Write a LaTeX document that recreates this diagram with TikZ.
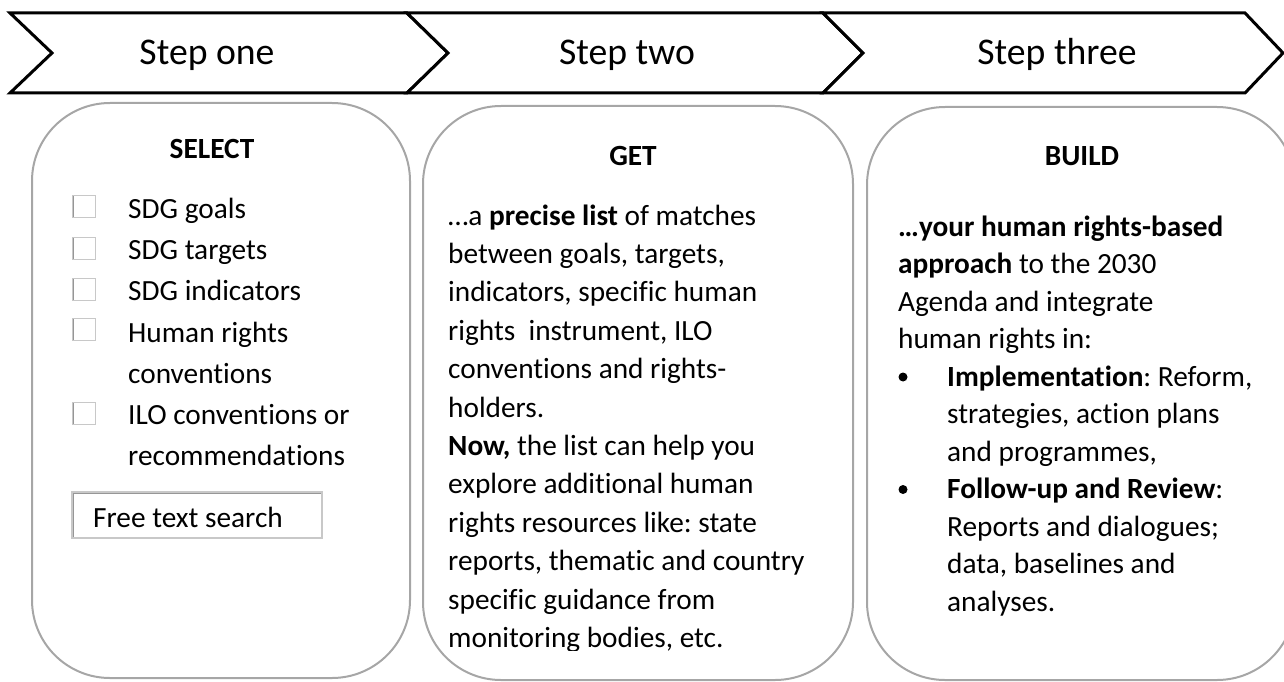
\documentclass[tikz,border=0pt]{standalone}
\usepackage{fontspec}
\setmainfont{Carlito}[Ligatures={NoCommon}]
\frenchspacing
\definecolor{panelgray}{RGB}{166,166,166}
\definecolor{chklight}{RGB}{200,200,200}
\definecolor{chkdark}{RGB}{150,150,150}
\begin{document}
\begin{tikzpicture}[x=1pt,y=-1pt,
  chev/.style={draw=black,line width=3pt,fill=white,line join=miter},
  steptxt/.style={font=\fontsize{37.7}{45}\selectfont,anchor=base,inner sep=0pt},
  panel/.style={draw=panelgray,line width=2pt,rounded corners=78pt},
  txt/.style={font=\fontsize{29.3}{35}\selectfont\frenchspacing,anchor=base west,inner sep=0pt},
  head/.style={font=\fontsize{29.3}{35}\selectfont\bfseries,anchor=base,inner sep=0pt},
  chk/.style={draw=chklight,line width=1pt,fill=white,minimum width=23pt,minimum height=22pt,inner sep=0pt,
    path picture={\draw[chkdark,line width=2.5pt] (path picture bounding box.south west) -- (path picture bounding box.north west) -- (path picture bounding box.north east);}},
  sbox/.style={draw=chklight,line width=1.5pt,fill=white,minimum width=250pt,minimum height=46pt,inner sep=0pt,
    path picture={\draw[chkdark,line width=3pt] (path picture bounding box.south west) -- (path picture bounding box.north west) -- (path picture bounding box.north east);}},
  bul/.style={circle,fill=black,inner sep=0pt,minimum size=9pt}]
\useasboundingbox (0,0) rectangle (1284,682);
% chevrons
\draw[chev] (10,13) -- (407,13) -- (448,53) -- (407,93) -- (10,93) -- (52,53) -- cycle;
\draw[chev] (407,13) -- (823,13) -- (863,53) -- (823,93) -- (407,93) -- (448,53) -- cycle;
\draw[chev] (823,13) -- (1245,13) -- (1283,53) -- (1245,93) -- (823,93) -- (863,53) -- cycle;
\node[steptxt] (s1) at (207,65) {Step one};
\node[steptxt] (s2) at (627,65) {Step two};
\node[steptxt] (s3) at (1057,65) {Step three};
% panels
\draw[panel] (32,103) rectangle (410,678);
\draw[panel] (423,106) rectangle (853,680);
\draw[panel] (867,107) rectangle (1295,680);
% SELECT
\node[head] (hsel) at (212,158) {SELECT};
\node[chk] (c1) at (84,206) {};
\node[chk] (c2) at (84,248) {};
\node[chk] (c3) at (84,289) {};
\node[chk] (c4) at (84,329) {};
\node[chk] (c5) at (84,413) {};
\node[txt] (l1) at (128,218) {SDG goals};
\node[txt] (l2) at (128,259) {SDG targets};
\node[txt] (l3) at (128,300) {SDG indicators};
\node[txt] (l4) at (128,342) {Human rights};
\node[txt] (l4b) at (128,383) {conventions};
\node[txt] (l5) at (128,424) {ILO conventions or};
\node[txt] (l5b) at (128,465) {recommendations};
\node[sbox] (fts) at (197,515) {};
\node[txt] (ftst) at (93,527) {Free text search};
% GET
\node[head] (hget) at (633,165) {GET};
\begin{scope}
\clip (423,100) rectangle (853,650);
\foreach \t [count=\i] in {%
  {…a \textbf{precise list} of matches},
  {between goals, targets,},
  {indicators, specific human},
  {rights~ instrument, ILO},
  {conventions and rights-},
  {holders.},
  {\textbf{Now,} the list can help you},
  {explore additional human},
  {rights resources like: state},
  {reports, thematic and country},
  {specific guidance from},
  {monitoring bodies, etc.}}
  \node[txt] (g\i) at ({448},{225+38.4*(\i-1)}) {\t};
\end{scope}
% BUILD
\node[head] (hbld) at (1082,165) {BUILD};
\foreach \t/\xx [count=\i] in {%
  {\textbf{…your human rights-based}}/898,
  {\textbf{approach} to the 2030}/898,
  {Agenda and integrate}/898,
  {human rights in:}/898,
  {\textbf{Implementation}: Reform,}/947,
  {strategies, action plans}/947,
  {and programmes,}/947,
  {\textbf{Follow-up and Review}:}/947,
  {Reports and dialogues;}/947,
  {data, baselines and}/947,
  {analyses.}/947}
  \node[txt] (b\i) at ({\xx},{236+37.5*(\i-1)}) {\t};
\node[bul] (bu1) at (903,{236+37.5*4-9}) {};
\node[bul] (bu2) at (903,{236+37.5*7-9}) {};
\end{tikzpicture}
\end{document}
